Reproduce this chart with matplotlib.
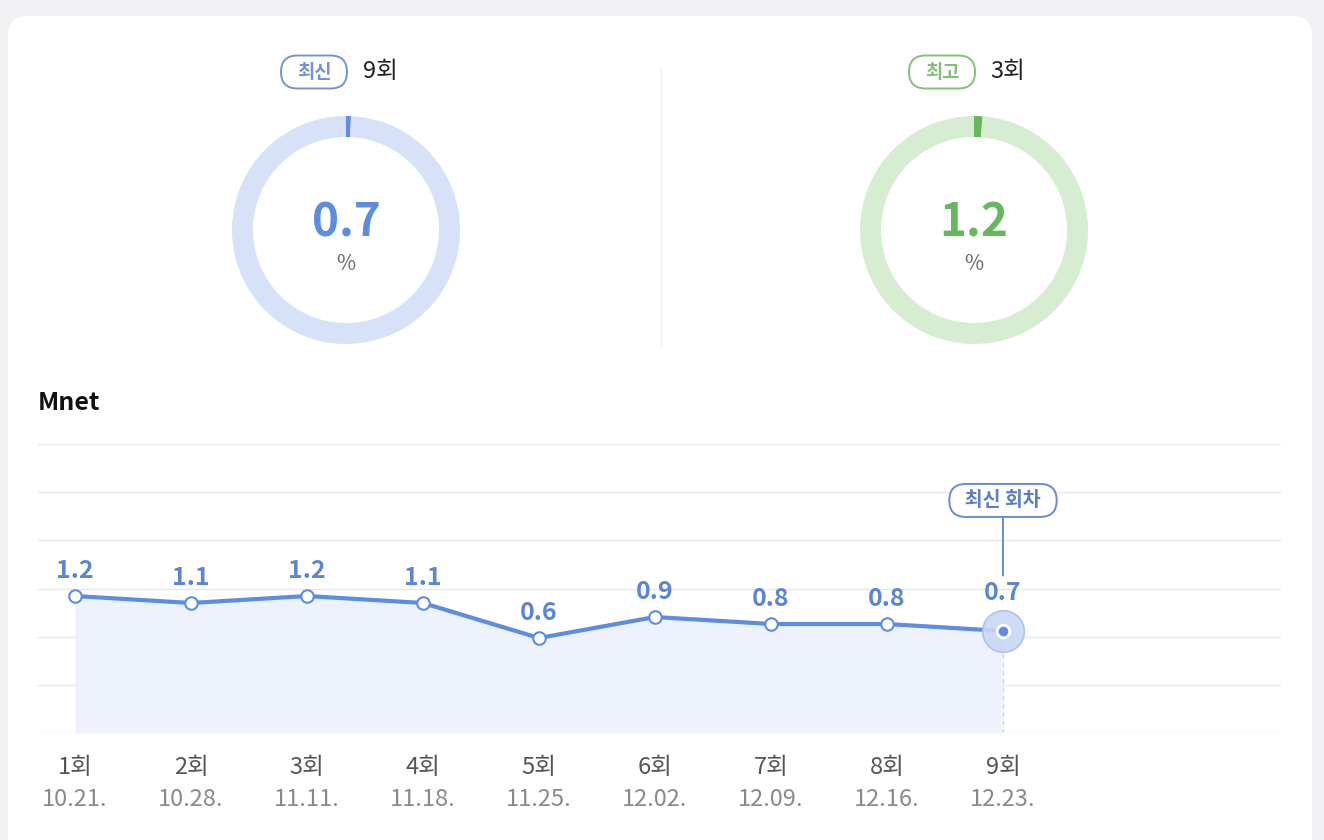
import matplotlib.pyplot as plt
from matplotlib.patches import FancyBboxPatch
import matplotlib.transforms as mtransforms

plt.rcParams['font.family'] = ['Noto Sans CJK KR', 'DejaVu Sans']

# 데이터
회차 = ['1회', '2회', '3회', '4회', '5회', '6회', '7회', '8회', '9회']
날짜 = ['10.21.', '10.28.', '11.11.', '11.18.', '11.25.', '12.02.', '12.09.', '12.16.', '12.23.']
시청률 = [1.2, 1.1, 1.2, 1.1, 0.6, 0.9, 0.8, 0.8, 0.7]

최신_회차 = '9회'
최신_값 = 0.7
최고_회차 = '3회'
최고_값 = 1.2

# 색상
파랑 = '#5c8ce3'
연파랑 = '#d7e1f8'
초록 = '#66b85c'
연초록 = '#d6edd2'

W, H = 1324, 840
fig = plt.figure(figsize=(W / 100, H / 100), dpi=100)
fig.patch.set_facecolor('#f1f0f3')


def px_axes(x0, y0, x1, y1):
    # 픽셀 좌표(위에서 아래로)를 figure 비율로
    return fig.add_axes([x0 / W, 1 - y1 / H, (x1 - x0) / W, (y1 - y0) / H])


# 배경 카드
bg = px_axes(0, 0, W, H)
bg.set_xlim(0, W)
bg.set_ylim(H, 0)
bg.axis('off')
bg.add_patch(FancyBboxPatch((8, 16), 1304, 900, boxstyle='round,pad=0,rounding_size=20',
                            facecolor='white', edgecolor='none'))
bg.plot([661, 661], [68, 345], color='#ededf0', lw=1)


def 도넛(cx, cy, 값, 진한색, 연한색, 라벨, 회, 배지색):
    r = 114
    ax = px_axes(cx - r, cy - r, cx + r, cy + r)
    ax.pie([값, 100 - 값], colors=[진한색, 연한색], startangle=90, counterclock=False,
           wedgeprops=dict(width=21 / r, edgecolor='none'), radius=1)
    ax.set_xlim(-1, 1)
    ax.set_ylim(-1, 1)
    ax.set_aspect('equal')
    ax.axis('off')
    ax.text(0, 0.06, f'{값}', ha='center', va='center', fontsize=33,
            fontweight='bold', color=진한색)
    ax.text(0, -0.3, '%', ha='center', va='center', fontsize=15, color='#666666')
    # 상단 배지 (알약 모양)
    bx = cx - 32
    bg.add_patch(FancyBboxPatch((bx - 33, 72 - 16.5), 66, 33,
                                boxstyle='round,pad=0,rounding_size=16.5',
                                facecolor='white', edgecolor=배지색, lw=1.4))
    bg.text(bx, 72, 라벨, ha='center', va='center', fontsize=13.5,
            fontweight='bold', color=배지색)
    bg.text(cx + 34, 72, 회, ha='center', va='center', fontsize=17, color='#222222')


도넛(346, 230, 최신_값, 파랑, 연파랑, '최신', 최신_회차, '#7394d2')
도넛(974, 230, 최고_값, 초록, 연초록, '최고', 최고_회차, '#80c376')

fig.text(38 / W, 1 - 403 / H, 'Mnet', ha='left', va='center', fontsize=18,
         fontweight='bold', color='#111111')

# 라인 차트
ax = px_axes(38, 444, 1281, 733)
x = list(range(len(시청률)))
ax.set_xlim(-37 / 116, 8 + 278 / 116)
ax.set_ylim(1.2 - 137 / 70, 1.2 + 152 / 70)
ax.axis('off')
lo, hi = ax.get_ylim()
for k in range(7):
    ax.axhline(lo + (hi - lo) * k / 6, color='#e9e9ed', lw=1, zorder=0)

ax.fill_between(x, 시청률, lo, color='#eef2fc', lw=0, zorder=1)
ax.plot([x[-1], x[-1]], [lo, 시청률[-1]], color='#c9d6f3', lw=1, ls=(0, (3, 3)), zorder=1)
ax.plot(x, 시청률, color=파랑, lw=3, zorder=3)
ax.plot(x[:-1], 시청률[:-1], 'o', ms=9, mfc='white', mec=파랑, mew=1.5, zorder=4)
ax.plot(x[-1], 시청률[-1], 'o', ms=30, mfc='#c9d7f4', mec='#a8bfee', mew=1.2, alpha=0.9, zorder=4)
ax.plot(x[-1], 시청률[-1], 'o', ms=9, mfc=파랑, mec='white', mew=2, zorder=5)

for i, v in enumerate(시청률):
    dy = 27 if i == len(시청률) - 1 else 18
    ax.annotate(f'{v}', (i, v), xytext=(0, dy), textcoords='offset points',
                ha='center', va='center', fontsize=18, fontweight='bold', color='#5b86d6',
                zorder=6)

ax.annotate('  최신 회차  ', (x[-1], 시청률[-1]), xytext=(0, 94), textcoords='offset points',
            ha='center', va='center', fontsize=14, fontweight='bold', color='#5a7fc4',
            bbox=dict(boxstyle='round,pad=0.36,rounding_size=0.85', facecolor='white',
                      edgecolor='#6b8ccb', lw=1.4),
            arrowprops=dict(arrowstyle='-', color='#6b8ccb', lw=1.4, shrinkA=0, shrinkB=40),
            zorder=6)

trans = mtransforms.blended_transform_factory(ax.transData, ax.transAxes)
for i in x:
    ax.text(i, -35 / 289, 회차[i], transform=trans, ha='center', va='center',
            fontsize=17, color='#555555', clip_on=False)
    ax.text(i, -66 / 289, 날짜[i], transform=trans, ha='center', va='center',
            fontsize=17, color='#8a8a8a', clip_on=False)

fig.savefig('out.png', dpi=100, facecolor=fig.get_facecolor())
